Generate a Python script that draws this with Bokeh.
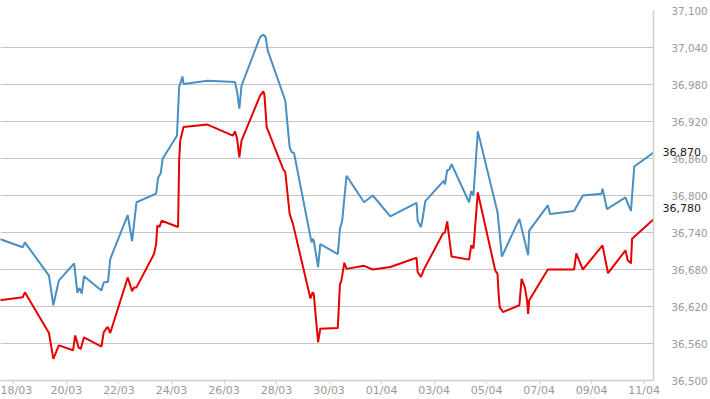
import pandas as pd
from bokeh.plotting import figure
from bokeh.models import (FixedTicker, NumeralTickFormatter, DatetimeTickFormatter,
                          Range1d, LinearAxis)
from bokeh.embed import file_html
from bokeh.resources import INLINE

YEAR = 2021

blue_times = ["03-17 10:00", "03-18 08:00", "03-18 10:00", "03-19 08:00", "03-19 12:00", "03-19 17:00",
              "03-20 07:00", "03-20 10:00", "03-20 12:00", "03-20 14:00", "03-20 16:00", "03-21 08:00",
              "03-21 10:00", "03-21 14:00", "03-21 16:00", "03-22 08:00", "03-22 12:00", "03-22 16:00",
              "03-23 10:00", "03-23 11:00", "03-23 12:00", "03-23 14:00", "03-23 16:00", "03-24 05:00",
              "03-24 07:00", "03-24 10:00", "03-24 11:00", "03-25 09:00", "03-26 10:00", "03-26 12:00",
              "03-26 14:00", "03-26 16:00", "03-27 09:00", "03-27 12:00", "03-27 14:00", "03-27 16:00",
              "03-28 08:00", "03-28 12:00", "03-28 14:00", "03-28 16:00", "03-29 08:00", "03-29 09:00",
              "03-29 10:00", "03-29 14:00", "03-29 16:00", "03-30 08:00", "03-30 10:00", "03-30 12:00",
              "03-30 16:00", "03-31 08:00", "03-31 16:00", "04-01 08:00", "04-02 08:00", "04-02 09:00",
              "04-02 12:00", "04-02 13:00", "04-02 16:00", "04-03 09:00", "04-03 10:00", "04-03 12:00",
              "04-03 14:00", "04-03 16:00", "04-04 08:00", "04-04 10:00", "04-04 12:00", "04-04 16:00",
              "04-05 10:00", "04-05 14:00", "04-06 06:00", "04-06 14:00", "04-06 15:00", "04-07 08:00",
              "04-07 10:00", "04-08 08:00", "04-08 16:00", "04-09 09:00", "04-09 10:00", "04-09 11:00",
              "04-09 14:00", "04-10 07:00", "04-10 09:00", "04-10 12:00", "04-10 15:00", "04-11 09:00"]
blue_values = [36730, 36716, 36724, 36670, 36622, 36662,
               36690, 36642, 36650, 36641, 36669, 36646,
               36659, 36660, 36697, 36768, 36726, 36789,
               36803, 36819, 36830, 36835, 36860, 36897,
               36976, 36993, 36981, 36986, 36984, 36968,
               36941, 36978, 37057, 37061, 37057, 37035,
               36954, 36878, 36870, 36869, 36724, 36730,
               36727, 36684, 36721, 36705, 36746, 36759,
               36832, 36789, 36800, 36766, 36788, 36759,
               36749, 36757, 36791, 36824, 36818, 36841,
               36842, 36851, 36789, 36807, 36800, 36904,
               36773, 36701, 36762, 36703, 36743, 36784,
               36770, 36775, 36800, 36803, 36811, 36803,
               36778, 36797, 36787, 36775, 36847, 36870]

red_times = ["03-17 10:00", "03-18 08:00", "03-18 10:00", "03-19 08:00", "03-19 12:00", "03-19 17:00",
             "03-20 06:00", "03-20 08:00", "03-20 11:00", "03-20 13:00", "03-20 16:00", "03-21 08:00",
             "03-21 10:00", "03-21 13:00", "03-21 14:00", "03-21 16:00", "03-22 08:00", "03-22 12:00",
             "03-22 14:00", "03-22 16:00", "03-23 08:00", "03-23 10:00", "03-23 11:00", "03-23 13:00",
             "03-23 15:00", "03-24 06:00", "03-24 07:00", "03-24 08:00", "03-24 11:00", "03-25 09:00",
             "03-26 08:00", "03-26 10:00", "03-26 12:00", "03-26 14:00", "03-26 16:00", "03-27 09:00",
             "03-27 12:00", "03-27 13:00", "03-27 15:00", "03-28 06:00", "03-28 08:00", "03-28 12:00",
             "03-28 15:00", "03-29 07:00", "03-29 09:00", "03-29 10:00", "03-29 14:00", "03-29 16:00",
             "03-30 08:00", "03-30 10:00", "03-30 11:00", "03-30 14:00", "03-30 16:00", "03-31 08:00",
             "03-31 16:00", "04-01 08:00", "04-02 08:00", "04-02 09:00", "04-02 12:00", "04-02 15:00",
             "04-03 08:00", "04-03 10:00", "04-03 12:00", "04-03 16:00", "04-04 08:00", "04-04 10:00",
             "04-04 12:00", "04-04 16:00", "04-05 08:00", "04-05 10:00", "04-05 11:00", "04-05 12:00",
             "04-05 15:00", "04-06 06:00", "04-06 08:00", "04-06 11:00", "04-06 13:00", "04-06 14:00",
             "04-06 15:00", "04-07 08:00", "04-08 04:00", "04-08 08:00", "04-08 10:00", "04-08 16:00",
             "04-09 10:00", "04-09 15:00", "04-10 07:00", "04-10 09:00", "04-10 12:00", "04-10 13:00",
             "04-11 09:00"]
red_values = [36630, 36635, 36643, 36577, 36535, 36557,
              36549, 36573, 36554, 36551, 36570, 36555,
              36578, 36586, 36586, 36577, 36667, 36645,
              36651, 36651, 36705, 36722, 36751, 36749,
              36759, 36749, 36857, 36889, 36911, 36915,
              36897, 36904, 36892, 36862, 36889, 36962,
              36969, 36962, 36911, 36843, 36838, 36770,
              36754, 36633, 36643, 36641, 36562, 36584,
              36585, 36657, 36659, 36691, 36681, 36686,
              36680, 36684, 36699, 36676, 36668, 36681,
              36738, 36740, 36758, 36701, 36696, 36719,
              36714, 36805, 36678, 36673, 36641, 36619,
              36611, 36622, 36665, 36651, 36630, 36608,
              36630, 36680, 36680, 36680, 36706, 36680,
              36719, 36674, 36711, 36695, 36690, 36730,
              36762]

x_tick_dates = ["03-18", "03-20", "03-22", "03-24", "03-26", "03-28", "03-30",
                "04-01", "04-03", "04-05", "04-07", "04-09", "04-11"]
y_ticks = [36500, 36560, 36620, 36680, 36740, 36800, 36860, 36920, 36980, 37040, 37100]
last_values = [36870, 36780]


def ts(s):
    return pd.Timestamp(f"{YEAR}-{s}")


def ms(t):
    return (t - pd.Timestamp("1970-01-01")) / pd.Timedelta(milliseconds=1)


bx = [ts(s) for s in blue_times]
rx = [ts(s) for s in red_times]

x_start = ts("03-17 11:42")
x_end = ts("04-11 08:35")

p = figure(width=710, height=399, x_axis_type="datetime", y_axis_location="right",
           output_backend="svg", toolbar_location=None,
           x_range=Range1d(x_start, x_end), y_range=Range1d(36500, 37100),
           min_border_left=0, min_border_top=10, min_border_bottom=2, min_border_right=44)
p.outline_line_color = None
p.background_fill_color = "white"

p.xgrid.grid_line_color = None
p.ygrid.grid_line_color = "#c6c6c6"
p.ygrid.grid_line_width = 1.2
p.ygrid.ticker = FixedTicker(ticks=y_ticks)

# gray value axis (inner)
ya = p.yaxis[0]
ya.ticker = FixedTicker(ticks=y_ticks)
ya.formatter = NumeralTickFormatter(format="0,0")
ya.axis_line_color = "#cfcfcf"
ya.axis_line_width = 1.5
ya.major_tick_line_color = None
ya.minor_tick_line_color = None
ya.major_label_standoff = 12
ya.major_label_text_font = "DejaVu Sans"
ya.major_label_text_font_size = "10.3px"
ya.major_label_text_color = "#9a9a9a"

# black last-value axis, pulled back over the gray one
la = LinearAxis(ticker=FixedTicker(ticks=last_values),
                formatter=NumeralTickFormatter(format="0,0"))
la.axis_line_color = None
la.major_tick_line_color = None
la.minor_tick_line_color = None
la.major_label_standoff = -54
la.major_label_text_font = "DejaVu Sans"
la.major_label_text_font_size = "11px"
la.major_label_text_color = "#1a1a1a"
p.add_layout(la, "right")

xa = p.xaxis[0]
xa.ticker = FixedTicker(ticks=[ms(ts(d)) for d in x_tick_dates])
xa.formatter = DatetimeTickFormatter(days="%d/%m", months="%d/%m", hours="%d/%m")
xa.axis_line_color = "#cfcfcf"
xa.axis_line_width = 1.5
xa.major_tick_line_color = "#cfcfcf"
xa.major_tick_out = 3
xa.major_tick_in = 0
xa.minor_tick_line_color = None
xa.major_label_standoff = 0
xa.major_label_text_font = "DejaVu Sans"
xa.major_label_text_font_size = "11px"
xa.major_label_text_color = "#9a9a9a"

p.line(bx, blue_values, line_color="#4a8fc4", line_width=2)
p.line(rx, red_values, line_color="#e60000", line_width=2)

open("out.html", "w").write(file_html(p, INLINE))
